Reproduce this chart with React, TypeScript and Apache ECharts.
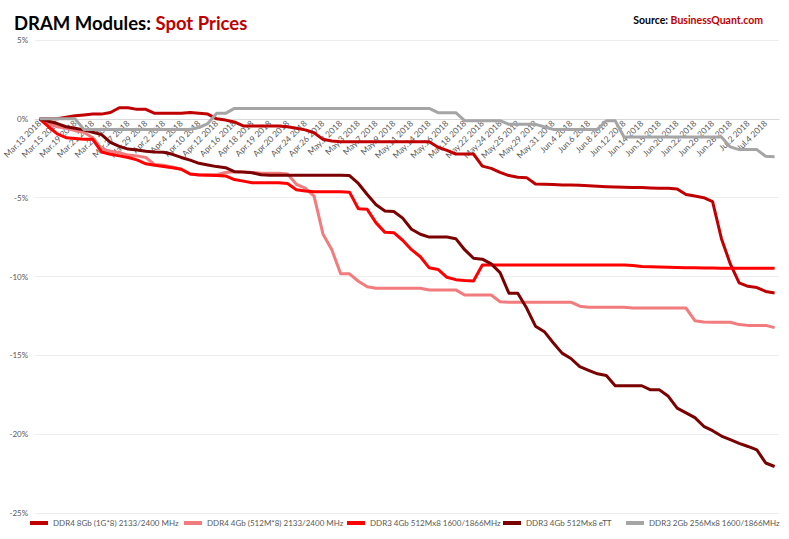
import { useEffect, useRef } from 'react';
import * as echarts from 'echarts';

// dates (every other one is shown on the axis)
const dates = [
  'Mar.13 2018', 'Mar.14 2018', 'Mar.15 2018', 'Mar.16 2018', 'Mar.19 2018', 'Mar.20 2018', 'Mar.21 2018', 'Mar.22 2018', 'Mar.23 2018', 'Mar.26 2018',
  'Mar.27 2018', 'Mar.28 2018', 'Mar.29 2018', 'Mar.30 2018', 'Apr.2 2018', 'Apr.3 2018', 'Apr.4 2018', 'Apr.9 2018', 'Apr.10 2018', 'Apr.11 2018',
  'Apr.12 2018', 'Apr.13 2018', 'Apr.16 2018', 'Apr.17 2018', 'Apr.18 2018', 'Apr.18 2018', 'Apr.19 2018', 'Apr.19 2018', 'Apr.20 2018', 'Apr.23 2018',
  'Apr.24 2018', 'Apr.25 2018', 'Apr.26 2018', 'Apr.27 2018', 'May.2 2018', 'May.2 2018', 'May.3 2018', 'May.4 2018', 'May.7 2018', 'May.8 2018',
  'May.9 2018', 'May.10 2018', 'May.11 2018', 'May.11 2018', 'May.14 2018', 'May.15 2018', 'May.16 2018', 'May.17 2018', 'May.18 2018', 'May.21 2018',
  'May.22 2018', 'May.23 2018', 'May.24 2018', 'May.24 2018', 'May.25 2018', 'May.28 2018', 'May.29 2018', 'May.30 2018', 'May.31 2018', 'Jun.1 2018',
  'Jun.4 2018', 'Jun.5 2018', 'Jun.6 2018', 'Jun.7 2018', 'Jun.8 2018', 'Jun.11 2018', 'Jun.12 2018', 'Jun.13 2018', 'Jun.14 2018', 'Jun.14 2018',
  'Jun.15 2018', 'Jun.19 2018', 'Jun.20 2018', 'Jun.21 2018', 'Jun.22 2018', 'Jun.25 2018', 'Jun.26 2018', 'Jun.27 2018', 'Jun.28 2018', 'Jun.29 2018',
  'Jul.2 2018', 'Jul.3 2018', 'Jul.4 2018', 'Jul.5 2018',
];

const seriesNames = [
  'DDR4 8Gb (1G*8) 2133/2400 MHz',
  'DDR4 4Gb (512M*8) 2133/2400 MHz',
  'DDR3 4Gb 512Mx8 1600/1866MHz',
  'DDR3 4Gb 512Mx8 eTT',
  'DDR3 2Gb 256Mx8 1600/1866MHz',
];

// % change since Mar.13 2018
const ddr4_8gb = [
  0, 0, 0, 0.1, 0.2, 0.25, 0.3, 0.3, 0.4, 0.7,
  0.7, 0.6, 0.6, 0.35, 0.35, 0.35, 0.35, 0.4, 0.35, 0.3,
  0, -0.08, -0.2, -0.45, -0.45, -0.45, -0.45, -0.45, -0.5, -0.6,
  -0.7, -0.88, -1.3, -1.4, -1.45, -1.45, -1.45, -1.45, -1.45, -1.45,
  -1.45, -1.45, -1.45, -1.45, -1.45, -1.8, -2.0, -2.23, -2.23, -2.23,
  -3.0, -3.14, -3.4, -3.6, -3.7, -3.73, -4.13, -4.15, -4.17, -4.2,
  -4.2, -4.22, -4.25, -4.27, -4.3, -4.32, -4.34, -4.35, -4.36, -4.38,
  -4.4, -4.4, -4.45, -4.8, -4.9, -5.0, -5.25, -7.6, -9.2, -10.4,
  -10.62, -10.7, -10.95, -11.05,
];

const ddr4_4gb = [
  0, -0.3, -0.5, -0.6, -0.75, -0.85, -1.2, -1.9, -2.05, -2.15,
  -2.3, -2.35, -2.45, -2.9, -2.95, -3.05, -3.2, -3.5, -3.55, -3.55,
  -3.55, -3.4, -3.35, -3.35, -3.4, -3.45, -3.45, -3.45, -3.5, -4.15,
  -4.4, -4.9, -7.3, -8.3, -9.83, -9.83, -10.3, -10.65, -10.75, -10.75,
  -10.75, -10.75, -10.75, -10.75, -10.85, -10.85, -10.85, -10.85, -11.17, -11.17,
  -11.17, -11.17, -11.6, -11.63, -11.63, -11.63, -11.63, -11.63, -11.63, -11.63,
  -11.63, -11.88, -11.95, -11.95, -11.95, -11.95, -11.95, -12.0, -12.0, -12.0,
  -12.0, -12.0, -12.0, -12.0, -12.8, -12.88, -12.9, -12.9, -12.9, -13.05,
  -13.1, -13.1, -13.1, -13.24,
];

const ddr3_4gb = [
  0, -0.5, -0.95, -1.2, -1.25, -1.3, -1.3, -2.1, -2.25, -2.35,
  -2.45, -2.6, -2.85, -2.95, -3.03, -3.1, -3.2, -3.5, -3.56, -3.58,
  -3.6, -3.62, -3.85, -3.95, -4.05, -4.05, -4.05, -4.05, -4.1, -4.5,
  -4.58, -4.62, -4.62, -4.62, -4.62, -4.65, -5.7, -5.74, -6.6, -7.2,
  -7.22, -7.7, -8.3, -8.75, -9.45, -9.55, -10.05, -10.2, -10.25, -10.28,
  -9.27, -9.27, -9.27, -9.27, -9.27, -9.27, -9.27, -9.27, -9.27, -9.27,
  -9.27, -9.27, -9.27, -9.27, -9.27, -9.27, -9.27, -9.3, -9.37, -9.38,
  -9.4, -9.42, -9.43, -9.45, -9.45, -9.46, -9.46, -9.47, -9.47, -9.47,
  -9.48, -9.48, -9.48, -9.48,
];

const ddr3_4gb_ett = [
  0, -0.15, -0.3, -0.5, -0.6, -0.7, -0.85, -1.0, -1.5, -1.75,
  -1.92, -1.98, -2.05, -2.1, -2.12, -2.25, -2.45, -2.62, -2.82, -2.93,
  -3.03, -3.1, -3.35, -3.38, -3.42, -3.55, -3.58, -3.58, -3.58, -3.58,
  -3.58, -3.58, -3.58, -3.58, -3.58, -3.6, -4.1, -4.8, -5.45, -5.84,
  -5.88, -6.3, -7.0, -7.32, -7.5, -7.5, -7.5, -7.6, -8.3, -8.84,
  -8.9, -9.2, -9.75, -11.06, -11.06, -12.0, -13.15, -13.5, -14.2, -14.86,
  -15.2, -15.72, -15.95, -16.17, -16.28, -16.93, -16.93, -16.93, -16.93, -17.19,
  -17.19, -17.6, -18.35, -18.65, -18.95, -19.5, -19.78, -20.12, -20.35, -20.58,
  -20.78, -21.0, -21.83, -22.05,
];

const ddr3_2gb = [
  0, 0, 0, 0, 0, -0.67, -0.67, -0.67, -0.67, -0.67,
  -0.67, -0.67, -0.67, -0.67, -0.67, -0.67, -0.67, -0.67, -0.55, -0.3,
  0.35, 0.35, 0.66, 0.66, 0.66, 0.66, 0.66, 0.66, 0.66, 0.66,
  0.66, 0.66, 0.66, 0.66, 0.66, 0.66, 0.66, 0.66, 0.66, 0.66,
  0.66, 0.66, 0.66, 0.66, 0.66, 0.39, 0.39, 0.39, -0.12, -0.12,
  -0.12, -0.12, -0.12, -0.35, -0.35, -0.35, -0.35, -0.5, -0.67, -0.67,
  -0.67, -0.67, -0.67, -0.67, -0.12, -0.12, -1.15, -1.15, -1.15, -1.15,
  -1.15, -1.15, -1.15, -1.15, -1.15, -1.15, -1.15, -1.15, -1.78, -1.95,
  -1.95, -1.95, -2.38, -2.4,
];

const seriesData = [ddr4_8gb, ddr4_4gb, ddr3_4gb, ddr3_4gb_ett, ddr3_2gb];
const colors = ['#C00000', '#F27B7D', '#FF0000', '#7B0000', '#A5A5A5'];
const legendLeft = [30, 184, 347, 503, 626];

const GRID_TOP = 40;
const GRID_BOTTOM = 26;
const Y_MIN = -25;
const Y_MAX = 5;

const App = () => {
  const chartRef = useRef<HTMLDivElement>(null);

  useEffect(() => {
    if (!chartRef.current) return;
    const chart = echarts.init(chartRef.current, null, { renderer: 'svg' });

    // put the category axis on the 0% line
    const plotH = 539 - GRID_TOP - GRID_BOTTOM;
    const zeroOffset = -plotH * (0 - Y_MIN) / (Y_MAX - Y_MIN);

    const option: echarts.EChartsOption = {
      animation: false,
      backgroundColor: '#fff',
      textStyle: { fontFamily: 'Lato' },
      title: [
        {
          text: '{a|DRAM Modules: }{b|Spot Prices}',
          left: 9,
          top: 8,
          textStyle: {
            rich: {
              a: { fontSize: 18.5, color: '#000', fontFamily: 'Lato' },
              b: { fontSize: 18.5, color: '#C00000', fontWeight: 'bold', fontFamily: 'Lato' },
            },
          },
        },
        {
          text: '{a|Source: }{b|BusinessQuant.com}',
          right: 21,
          top: 9,
          textStyle: {
            rich: {
              a: { fontSize: 10.5, color: '#000', fontFamily: 'Lato' },
              b: { fontSize: 10.5, color: '#C00000', fontWeight: 'bold', fontFamily: 'Lato' },
            },
          },
        },
      ],
      legend: seriesNames.map((name, i) => ({
        data: [name],
        left: legendLeft[i],
        top: 519,
        padding: 0,
        icon: 'rect',
        itemWidth: 18,
        itemHeight: 4,
        selectedMode: false,
        textStyle: { fontSize: 8, color: '#595959', fontFamily: 'Lato' },
      })),
      grid: {
        left: 30,
        right: 10,
        top: GRID_TOP,
        bottom: GRID_BOTTOM,
        containLabel: false,
      },
      xAxis: {
        type: 'category',
        data: dates,
        boundaryGap: true,
        position: 'bottom',
        offset: zeroOffset,
        axisLine: { onZero: false, lineStyle: { color: '#D9D9D9', width: 1 } },
        axisTick: { show: false },
        axisLabel: {
          interval: 1,
          rotate: 45,
          fontSize: 8.5,
          color: '#595959',
          margin: 3,
        },
        splitLine: { show: false },
      },
      yAxis: {
        type: 'value',
        min: Y_MIN,
        max: Y_MAX,
        interval: 5,
        axisLine: { show: false },
        axisTick: { show: false },
        axisLabel: {
          formatter: (v: number) => `${v}%`,
          fontSize: 8,
          color: '#595959',
          margin: 7,
        },
        splitLine: { lineStyle: { color: '#EDEDED', width: 1 } },
      },
      series: seriesNames.map((name, i) => ({
        name,
        type: 'line',
        data: seriesData[i],
        symbol: 'none',
        color: colors[i],
        lineStyle: { width: 3, color: colors[i], join: 'round' },
      })),
    };

    chart.setOption(option);
    return () => {
      chart.dispose();
    };
  }, []);

  return (
    <div
      ref={chartRef}
      style={{ position: 'fixed', left: 0, top: 0, width: 789, height: 539, background: '#fff' }}
    />
  );
};

export default App;
